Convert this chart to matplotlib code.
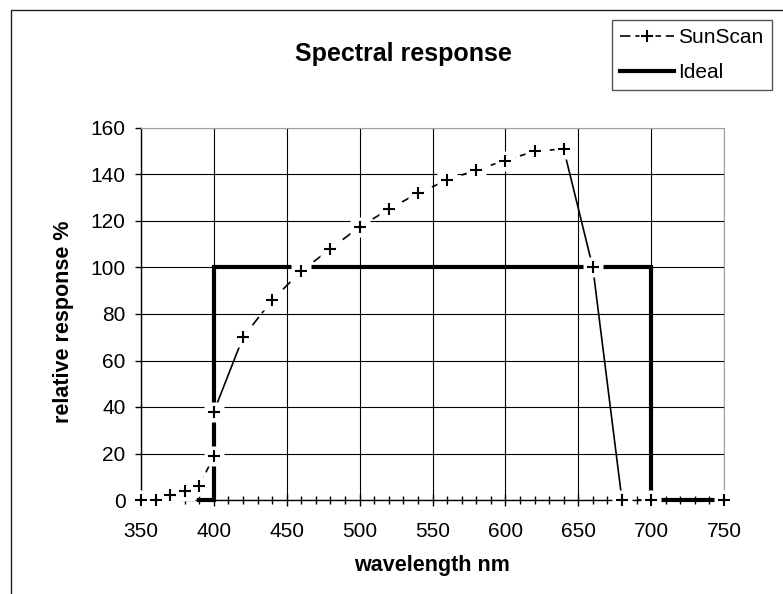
import numpy as np
import matplotlib
matplotlib.use("Agg")
import matplotlib.pyplot as plt
from matplotlib.lines import Line2D
from matplotlib.ticker import MultipleLocator
from matplotlib.legend_handler import HandlerTuple

plt.rcParams['font.family'] = ['Liberation Sans', 'DejaVu Sans']
plt.rcParams['lines.scale_dashes'] = False

# data
wl = [350, 360, 370, 380, 390, 400, 400, 420, 440, 460, 480, 500, 520,
      540, 560, 580, 600, 620, 640, 660, 680, 700, 750]
sunscan = [0, 0, 2, 4, 6, 19, 38, 70, 86, 98.5, 108, 117.5, 125,
           132, 137.5, 142, 146, 150, 151, 100, 0, 0, 0]
ideal_wl = [390, 400, 400, 700, 700, 750]
ideal = [0, 0, 100, 100, 0, 0]

W, H = 783, 594
fig = plt.figure(figsize=(W / 100, H / 100), dpi=100)
ax = fig.add_axes([141 / W, 94 / H, 583 / W, 372 / H])
ax.set_xlim(350, 750)
ax.set_ylim(0, 160)

# grid + spines
ax.set_axisbelow(True)
ax.xaxis.set_major_locator(MultipleLocator(50))
ax.xaxis.set_minor_locator(MultipleLocator(10))
ax.yaxis.set_major_locator(MultipleLocator(20))
ax.grid(True, which='major', color='black', lw=0.8)
for s in ['top', 'right']:
    ax.spines[s].set_color('#a0a0a0')
for s in ['left', 'bottom']:
    ax.spines[s].set_color('black')
    ax.spines[s].set_linewidth(1.0)

ax.tick_params(axis='y', direction='out', length=4.5, width=1, labelsize=15, pad=6.5)
ax.tick_params(axis='x', which='major', direction='inout', length=8, width=1, labelsize=15, pad=12)
ax.tick_params(axis='x', which='minor', direction='inout', length=6, width=1)

# ideal curve
ax.plot(ideal_wl, ideal, color='black', lw=3, solid_joinstyle='miter', zorder=3, clip_on=False)

# sunscan: dashed where flat, solid where steep (as the original renders)
pts = ax.transData.transform(np.column_stack([wl, sunscan]))
for i in range(len(wl) - 1):
    dx, dy = pts[i + 1] - pts[i]
    if abs(dy) > 2.2 * abs(dx):
        ax.plot(wl[i:i + 2], sunscan[i:i + 2], color='black', lw=1.2, zorder=3.5, clip_on=False)
    else:
        ax.plot(wl[i:i + 2], sunscan[i:i + 2], color='black', lw=1.2, dashes=(7.5, 3.5),
                zorder=3.5, clip_on=False)

# white box behind each marker, then the cross
ax.plot(wl, sunscan, ls='none', marker='s', ms=14.5, mfc='white', mec='none', zorder=4, clip_on=False)
ax.plot(wl, sunscan, ls='none', marker='+', ms=9, mew=1.5, color='black', zorder=5, clip_on=False)

# texts
fig.text(403 / W, 1 - 54 / H, 'Spectral response', ha='center', va='center',
         fontsize=18, fontweight='bold')
fig.text(432 / W, 1 - 566 / H, 'wavelength nm', ha='center', va='center',
         fontsize=15.5, fontweight='bold')
fig.text(63 / W, 1 - 322 / H, 'relative response %', ha='center', va='center',
         rotation=90, fontsize=15.5, fontweight='bold')

# legend
h_sun = (Line2D([], [], color='black', lw=1.2, dashes=(7.5, 3.5)),
         Line2D([], [], ls='none', marker='s', ms=12, mfc='white', mec='none'),
         Line2D([], [], ls='none', marker='+', ms=9, mew=1.5, color='black'))
h_ideal = Line2D([], [], color='black', lw=3)
leg = fig.legend([h_sun, h_ideal], ['SunScan', 'Ideal'], loc='upper right',
                 bbox_to_anchor=(772 / W, 1 - 20 / H), bbox_transform=fig.transFigure,
                 handler_map={tuple: HandlerTuple(ndivide=1)}, numpoints=1,
                 fontsize=15, frameon=True, fancybox=False, framealpha=1,
                 edgecolor='#555555', handlelength=2.6, handletextpad=0.2,
                 borderpad=0.4, labelspacing=0.75, borderaxespad=0)
leg.get_frame().set_linewidth(1.0)

# outer chart frame (only top and left edges are visible)
fig.add_artist(Line2D([11 / W, 11 / W, 1.0], [0, 1 - 10 / H, 1 - 10 / H],
                      transform=fig.transFigure, color='#222222', lw=1))

fig.savefig('out.png', dpi=100)
